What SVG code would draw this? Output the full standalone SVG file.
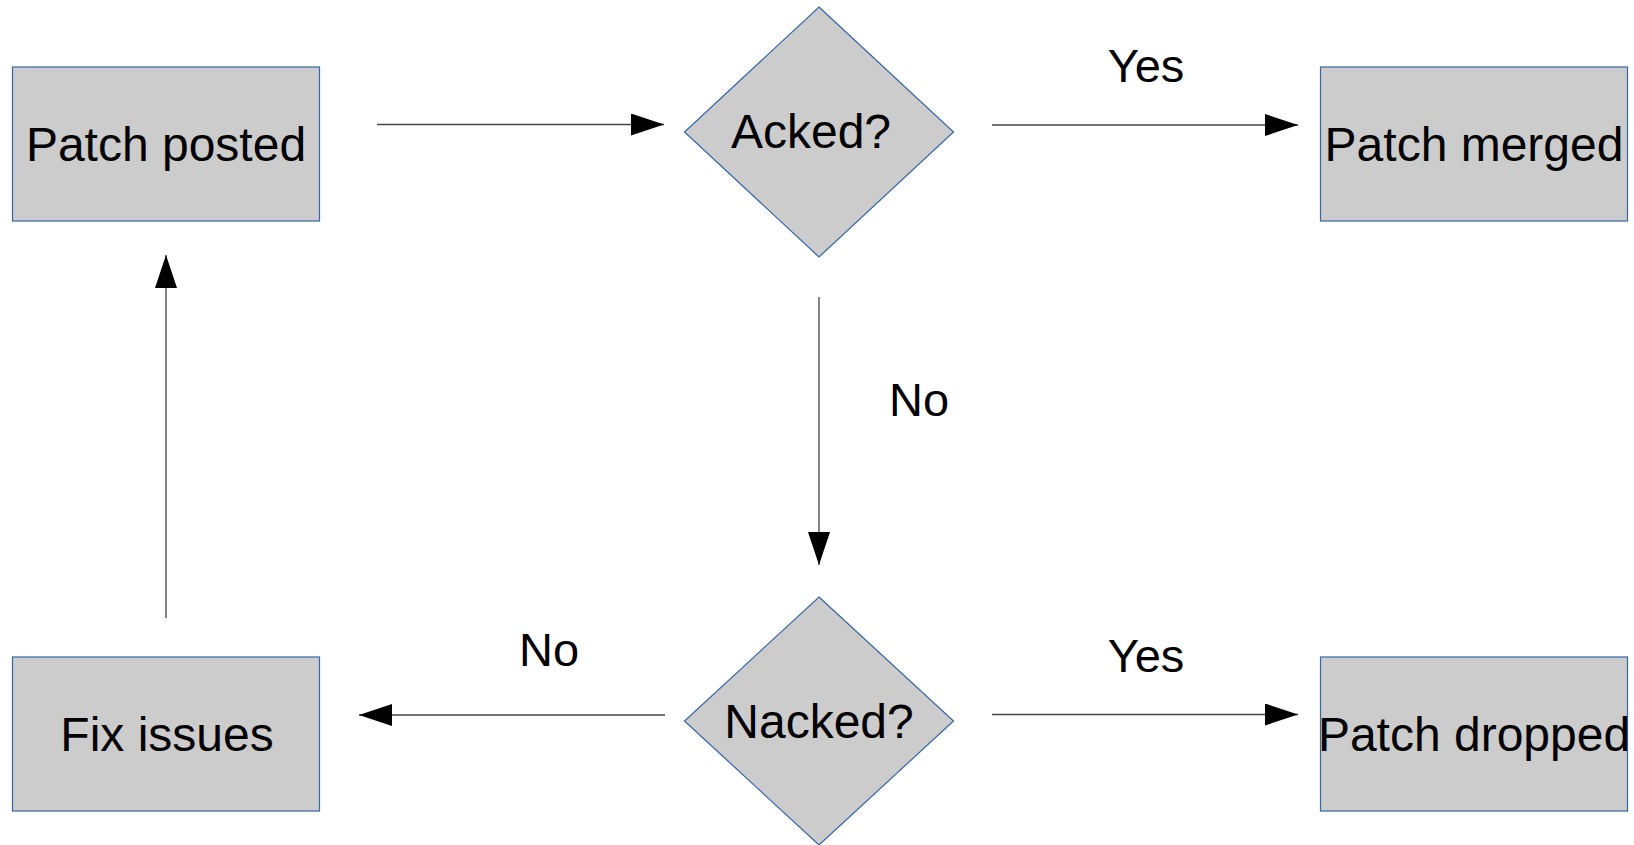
<svg xmlns="http://www.w3.org/2000/svg" width="1634" height="845" viewBox="0 0 1634 845">
  <style>
    .box { fill: #cccccc; stroke: #3465a4; stroke-width: 1.2; }
    .node-text { font-family: "Liberation Sans", Arial, sans-serif; font-size: 48px; fill: #000; text-anchor: middle; }
    .label { font-family: "Liberation Sans", Arial, sans-serif; font-size: 47px; fill: #000; text-anchor: middle; }
    .edge { stroke: #444; stroke-width: 1.3; fill: none; marker-end: url(#arrow); }
  </style>
  <defs>
    <marker id="arrow" markerUnits="userSpaceOnUse" markerWidth="33" markerHeight="22" refX="33" refY="11" orient="auto">
      <path d="M0,0 L33,11 L0,22 z" fill="#000"/>
    </marker>
  </defs>

  <rect width="1634" height="845" fill="#fff"/>

  <g id="patch-posted">
    <rect class="box" x="12.5" y="67" width="307" height="154"/>
    <text class="node-text" x="166" y="161">Patch posted</text>
  </g>
  <g id="acked">
    <polygon class="box" points="819,7 953.5,132 819,257 684.5,132"/>
    <text class="node-text" x="811" y="148">Acked?</text>
  </g>
  <g id="patch-merged">
    <rect class="box" x="1320.5" y="67" width="307" height="154"/>
    <text class="node-text" x="1474" y="161">Patch merged</text>
  </g>
  <g id="nacked">
    <polygon class="box" points="819,597 953.5,721 819,845 684.5,721"/>
    <text class="node-text" x="819" y="738">Nacked?</text>
  </g>
  <g id="fix-issues">
    <rect class="box" x="12.5" y="657" width="307" height="154"/>
    <text class="node-text" x="167" y="751">Fix issues</text>
  </g>
  <g id="patch-dropped">
    <rect class="box" x="1320.5" y="657" width="307" height="154"/>
    <text class="node-text" x="1474" y="751">Patch dropped</text>
  </g>

  <g id="connectors">
    <line class="edge" x1="377" y1="124.5" x2="664" y2="124.5"/>
    <line class="edge" x1="992" y1="125" x2="1298" y2="125"/>
    <line class="edge" x1="819" y1="297" x2="819" y2="565"/>
    <line class="edge" x1="665" y1="715" x2="359" y2="715"/>
    <line class="edge" x1="992" y1="714.5" x2="1298" y2="714.5"/>
    <line class="edge" x1="166" y1="618" x2="166" y2="255"/>
    <text class="label" x="1146" y="82">Yes</text>
    <text class="label" x="919" y="416">No</text>
    <text class="label" x="549" y="666">No</text>
    <text class="label" x="1146" y="672">Yes</text>
  </g>
</svg>
